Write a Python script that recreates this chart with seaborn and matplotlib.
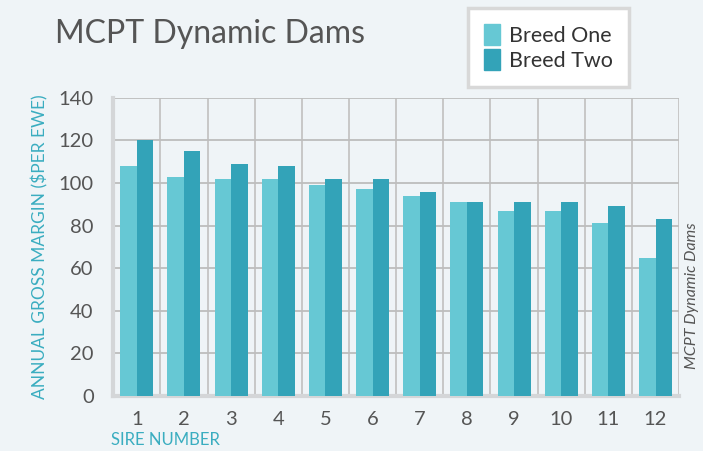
import numpy as np
import pandas as pd
import seaborn as sns
import matplotlib.pyplot as plt

# =============================
#  Données
# =============================
sires = ["1", "2", "3", "4", "5", "6", "7", "8", "9", "10", "11", "12"]
breed_one = [108, 103, 102, 102, 99, 97, 94, 91, 87, 87, 81, 65]
breed_two = [120, 115, 109, 108, 102, 102, 96, 91, 91, 91, 89, 83]
y_ticks = [0, 20, 40, 60, 80, 100, 120, 140]

df = pd.DataFrame({
    "sire": sires * 2,
    "margin": breed_one + breed_two,
    "breed": ["Breed One"] * len(sires) + ["Breed Two"] * len(sires),
})

bg = "#eff4f7"
teal = "#3aadc0"
grey_txt = "#555555"

sns.set_theme(style="white")
plt.rcParams["font.family"] = ["Lato", "DejaVu Sans"]

fig = plt.figure(figsize=(7.03, 4.51), dpi=100, facecolor=bg)
ax = fig.add_axes([0.161, 0.122, 0.805, 0.661], facecolor=bg)

sns.barplot(data=df, x="sire", y="margin", hue="breed",
            palette=["#66c8d4", "#33a3b8"], width=0.7, gap=0,
            saturation=1, linewidth=0, edgecolor="none",
            ax=ax, zorder=3, legend=False)

# =============================
#  Axes & grille
# =============================
ax.set_ylim(0, 140)
ax.set_xlim(-0.5, len(sires) - 0.5)
ax.set_yticks(y_ticks)
ax.set_yticklabels([str(v) for v in y_ticks], fontsize=14.5, color=grey_txt)
ax.set_xticks(range(len(sires)))
ax.set_xticklabels(sires, fontsize=14.5, color=grey_txt)
ax.set_xticks(np.arange(-0.5, len(sires)), minor=True)
ax.tick_params(axis="x", which="major", length=0, pad=11)
ax.tick_params(axis="x", which="minor", length=7, color="#c8c8c8", width=1.2)
ax.tick_params(axis="y", length=6, color="#c8c8c8", width=1.2, pad=8)
ax.grid(axis="y", color="#bdbdbd", linewidth=1.3, zorder=0)
ax.grid(axis="x", which="minor", color="#c4c4c4", linewidth=1.3, zorder=0)

for side in ["top", "right"]:
    ax.spines[side].set_visible(False)
for side in ["left", "bottom"]:
    ax.spines[side].set_color("#d4d6d8")
    ax.spines[side].set_linewidth(3)

ax.set_xlabel("")
ax.set_ylabel("ANNUAL GROSS MARGIN ($PER EWE)", color=teal, fontsize=12.5)
ax.yaxis.set_label_coords(-0.115, 0.5)

# =============================
#  Titres & légende
# =============================
fig.text(0.078, 0.925, "MCPT Dynamic Dams", fontsize=23, color=grey_txt, va="center")
fig.text(0.158, 0.024, "SIRE NUMBER", fontsize=12, color=teal, va="center")
fig.text(0.984, 0.345, "MCPT Dynamic Dams", fontsize=11.5, color=grey_txt,
         rotation=90, style="italic", va="center", ha="center")

handles = [plt.Rectangle((0, 0), 1, 1, color=c) for c in ["#66c8d4", "#33a3b8"]]
leg = fig.legend(handles, ["Breed One", "Breed Two"], loc="upper left",
                 bbox_to_anchor=(0.666, 0.982), frameon=True,
                 fontsize=15.5, handlelength=0.75, handleheight=1.1,
                 handletextpad=0.4, borderpad=0.75, borderaxespad=0,
                 labelspacing=0.15, fancybox=False)
leg.get_frame().set_edgecolor("#d8d8d8")
leg.get_frame().set_linewidth(2.5)
leg.get_frame().set_facecolor("white")
leg.get_frame().set_alpha(1)
for t in leg.get_texts():
    t.set_color("#333333")

plt.savefig("out.png", dpi=100, facecolor=bg)
plt.close()
